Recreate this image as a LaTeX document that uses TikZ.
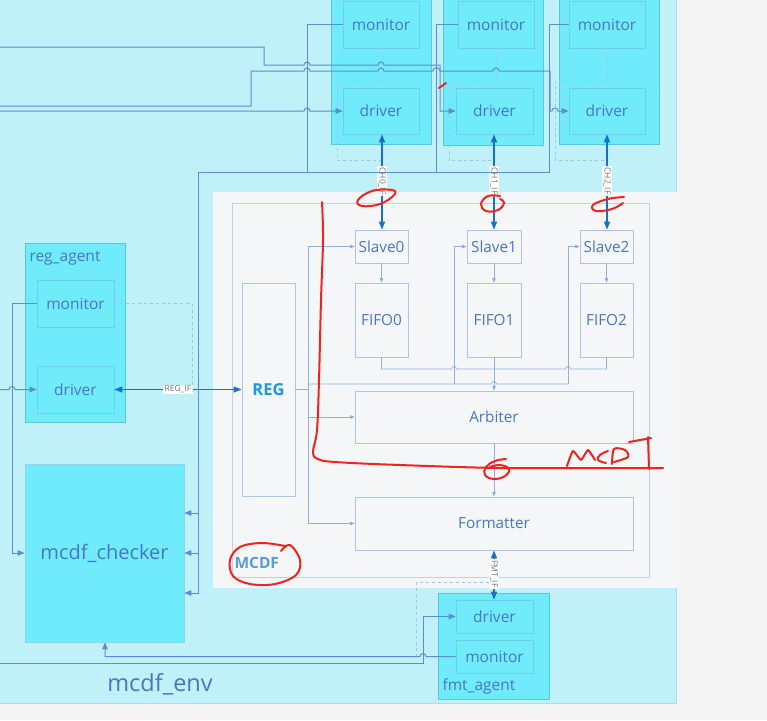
\documentclass[tikz,border=0pt]{standalone}
\usepackage{fontspec}
\setmainfont{Open Sans}
\usetikzlibrary{arrows.meta}
\definecolor{envc}{HTML}{C0F1F9}
\definecolor{envb}{HTML}{A6DDF0}
\definecolor{agc}{HTML}{6FEBFB}
\definecolor{subc}{HTML}{70EBFA}
\definecolor{agb}{HTML}{5CC3E0}
\definecolor{bgc}{HTML}{F5F5F5}
\definecolor{mcdfc}{HTML}{F5F6F8}
\definecolor{linec}{HTML}{5A8ED0}
\definecolor{ifc}{HTML}{1672C6}
\definecolor{txt}{HTML}{4677C6}
\definecolor{lbox}{HTML}{AFC4E2}
\definecolor{ilin}{HTML}{8DB1DF}
\definecolor{dsh}{HTML}{9FC6E6}
\definecolor{regc}{HTML}{1A9BE0}
\definecolor{mcdft}{HTML}{5B9BD5}
\definecolor{inkred}{HTML}{F0241E}
\tikzset{
  agentbox/.style={fill=agc, draw=agb, line width=0.8pt},
  subbox/.style={fill=subc, draw=agb!85, line width=0.6pt, text=txt, inner sep=0pt,
    font=\fontsize{15.5}{17}\selectfont},
  blk/.style={fill=mcdfc, draw=lbox, line width=0.8pt, text=txt, inner sep=0pt,
    font=\fontsize{15.3}{17}\selectfont},
  conn/.style={draw=linec, line width=1pt, -{Triangle[length=7pt,width=5.5pt]}},
  plainconn/.style={draw=linec, line width=1pt},
  iconn/.style={draw=ilin, line width=0.7pt, -{Triangle[length=4.5pt,width=3.5pt]}},
  iline/.style={draw=ilin, line width=0.7pt},
  ifarrow/.style={draw=ifc, line width=1.4pt,
    {Triangle[length=8pt,width=6pt]}-{Triangle[length=8pt,width=6pt]}},
  iflabel/.style={fill=white, text=gray!90!black, inner sep=1.2pt,
    font=\fontsize{8.5}{9}\selectfont},
  dashl/.style={draw=dsh, dashed, line width=0.7pt},
  redink/.style={draw=inkred, line width=2pt, line cap=round, line join=round},
  hop/.style={},
}
\begin{document}
\begin{tikzpicture}[x=1pt,y=-1pt]
\useasboundingbox (0,0) rectangle (767,720);
\fill[bgc] (0,0) rectangle (767,720);
% environment
\path[fill=envc, draw=envb, line width=0.8pt] (-2,-2) rectangle (676,703);
% MCDF
\path[fill=mcdfc, draw=white!85!lbox, line width=0.8pt] (213,192) rectangle (676,587);
\draw[lbox!80, line width=0.7pt] (232,203) rectangle (649,577);
\node[text=mcdft, font=\bfseries\fontsize{15.5}{17}\selectfont, anchor=west] (mcdflbl) at (231,563) {MCDF};

% channel agents
\path[agentbox] (331,-5) rectangle (431,144);
\path[agentbox] (443,-5) rectangle (543,145);
\path[agentbox] (559,-5) rectangle (659,144);
\node[subbox, minimum width=76pt, minimum height=47pt] (mon0) at (381,24.5) {monitor};
\node[subbox, minimum width=76pt, minimum height=46pt] (drv0) at (381,111) {driver};
\node[subbox, minimum width=76pt, minimum height=47pt] (mon1) at (496,24.5) {monitor};
\node[subbox, minimum width=77pt, minimum height=46pt] (drv1) at (494.5,111) {driver};
\node[subbox, minimum width=76pt, minimum height=47pt] (mon2) at (607,24.5) {monitor};
\node[subbox, minimum width=76pt, minimum height=46pt] (drv2) at (607,111) {driver};

% reg agent
\path[agentbox] (25,243) rectangle (125,422);
\node[text=txt, font=\fontsize{15.5}{17}\selectfont, anchor=west] (reglbl) at (26,258) {reg\_agent};
\node[subbox, minimum width=77pt, minimum height=47pt] (rmon) at (75.5,303.5) {monitor};
\node[subbox, minimum width=77pt, minimum height=47pt] (rdrv) at (75.5,389.5) {driver};

% checker
\node[fill=agc, draw=agb!70, line width=0.7pt, text=txt, minimum width=159pt, minimum height=178pt,
  font=\fontsize{20}{22}\selectfont] (ck) at (104.5,553) {mcdf\_checker};

% fmt agent
\path[agentbox] (438,593) rectangle (549,699);
\node[subbox, minimum width=77pt, minimum height=33pt] (fdrv) at (494.5,616.5) {driver};
\node[subbox, minimum width=77pt, minimum height=33pt] (fmon) at (494.5,656.5) {monitor};
\node[text=txt, font=\fontsize{15.5}{17}\selectfont, anchor=west] (fmtlbl) at (439,686) {fmt\_agent};

\node[text=txt, font=\fontsize{23.5}{26}\selectfont] (envlbl) at (160,684) {mcdf\_env};

% MCDF internals
\node[blk, minimum width=53pt, minimum height=213pt, text=regc, font=\bfseries\fontsize{16.5}{18}\selectfont] (reg) at (268.5,389.5) {REG};
\node[blk, minimum width=53pt, minimum height=33pt] (s0) at (381.5,246.5) {Slave0};
\node[blk, minimum width=54pt, minimum height=33pt] (s1) at (494,246.5) {Slave1};
\node[blk, minimum width=53pt, minimum height=33pt] (s2) at (606.5,246.5) {Slave2};
\node[blk, minimum width=53pt, minimum height=74pt] (f0) at (381.5,320) {FIFO0};
\node[blk, minimum width=54pt, minimum height=74pt] (f1) at (494,320) {FIFO1};
\node[blk, minimum width=53pt, minimum height=74pt] (f2) at (606.5,320) {FIFO2};
\node[blk, minimum width=278pt, minimum height=52pt] (arb) at (494,417) {Arbiter};
\node[blk, minimum width=278pt, minimum height=53pt] (fmt) at (494,523.5) {Formatter};

% internal connections
\draw[iconn] (s0.south) -- (f0.north);
\draw[iconn] (s1.south) -- (f1.north);
\draw[iconn] (s2.south) -- (f2.north);
\draw[iline] (reg.east |- 0,389.5) -- (308,389.5);
\draw[iline] (308,247) -- (308,524);
\draw[iconn] (308,246.5) -- (s0.west);
\draw[iline] (308,384) -- (491.5,384) arc[start angle=180,end angle=360,radius=2.5] -- (568,384);
\draw[iline] (454,384) -- (454,246.5);
\draw[iconn] (454,246.5) -- (s1.west);
\draw[iline] (568,384) -- (568,246.5);
\draw[iconn] (568,246.5) -- (s2.west);
\draw[iconn] (308,417) -- (arb.west);
\draw[iconn] (308,523.5) -- (fmt.west);
\draw[iline] (f0.south) -- (381.5,369) -- (451.5,369) arc[start angle=180,end angle=360,radius=2.5]
  -- (565.5,369) arc[start angle=180,end angle=360,radius=2.5] -- (606.5,369) -- (f2.south);
\draw[iconn] (f1.south) -- (arb.north);
\draw[iconn] (arb.south) -- (fmt.north);

% dashed monitor taps
\draw[dashl] (mon0.south) -- (381,81) -- (337,81) -- (337,160) -- (382,160);
\draw[dashl] (mon1.south) -- (496,81) -- (449,81) -- (449,160) -- (494,160);
\draw[dashl] (mon2.south) -- (607,81) -- (555,81) -- (555,160) -- (607,160);
\draw[dashl] (rmon.east) -- (192,303.5) -- (192,389.5);
\draw[dashl] (416,656.5) -- (416,582) -- (494,582);

% interface arrows
\draw[ifarrow] (drv0.south -| 382,0) -- (s0.north -| 382,0);
\draw[ifarrow] (drv1.south -| 494,0) -- (s1.north -| 494,0);
\draw[ifarrow] (drv2.south) -- (s2.north -| 607,0);
\node[iflabel, rotate=-90] (ch0) at (382,181) {CH0\_IF};
\node[iflabel, rotate=-90] (ch1) at (494,181) {CH1\_IF};
\node[iflabel, rotate=-90] (ch2) at (607,181) {CH2\_IF};
\draw[ifarrow] (rdrv.east) -- (reg.west |- 0,389.5);
\node[iflabel] (regif) at (178,389.5) {REG\_IF};
\draw[ifarrow] (fmt.south -| 494,0) -- (fdrv.north -| 494,0);
\node[iflabel, rotate=-90] (fmtif) at (494,574) {FMT\_IF};

% sequencer-side lines
\coordinate (inA) at (0,47);
\coordinate (inB) at (0,106);
\coordinate (inC) at (0,111);
\coordinate (inR) at (0,389.5);
\coordinate (inF) at (0,663);
\draw[conn] (inC) -- (304,111) arc[start angle=180,end angle=360,radius=3] -- (drv0.west);
\draw[conn] (inA) -- (264,47) -- (264,65) -- (304,65) arc[start angle=180,end angle=360,radius=3]
  -- (378,65) arc[start angle=180,end angle=360,radius=3] -- (440,65) -- (440,111) -- (drv1.west);
\draw[conn] (inB) -- (251,106) -- (251,71) -- (304,71) arc[start angle=180,end angle=360,radius=3]
  -- (378,71) arc[start angle=180,end angle=360,radius=3]
  -- (433,71) arc[start angle=180,end angle=360,radius=3.5]
  -- (493,71) arc[start angle=180,end angle=360,radius=3]
  -- (550,71) -- (550,111) -- (552,111) arc[start angle=180,end angle=360,radius=3] -- (drv2.west);
\draw[conn] (inR) -- (9,389.5) arc[start angle=180,end angle=360,radius=3] -- (rdrv.west);
\draw[conn] (inF) -- (423,663) -- (423,616.5) -- (fdrv.west);

% monitors to checker
\draw[plainconn] (mon0.west) -- (307,24.5) -- (307,172);
\draw[plainconn] (mon1.west) -- (436,24.5) -- (436,172);
\draw[conn] (mon2.west) -- (549,24.5) -- (549,172) -- (198,172) -- (198,593) -- (ck.east |- 0,593);
\draw[conn] (198,513) -- (ck.east |- 0,513);
\draw[conn] (198,553) -- (ck.east);
\draw[conn] (rmon.west) -- (12,303.5) -- (12,553) -- (ck.west);
\draw[conn] (fmon.west) -- (426,656.5) arc[start angle=0,end angle=-180,radius=3] -- (105,656.5) -- (ck.south -| 105,0);

% red annotations
\draw[redink] plot[smooth, tension=0.6] coordinates {(322,202) (323,240) (321,300) (319,380) (317,430) (313,452) (318,459) (335,462) (400,465) (500,468) (600,468) (663,468)};
\draw[redink] plot[smooth, tension=0.7] coordinates {(506,459) (495,461) (486,467) (485,475) (494,479) (505,476) (509,469) (500,465) (490,467)};
\draw[redink] plot[smooth, tension=0.3] coordinates {(567,466) (573,451) (581,460) (588,450) (595,460)};
\draw[redink] plot[smooth, tension=0.7] coordinates {(608,451) (600,455) (598,460) (606,463)};
\draw[redink] plot[smooth, tension=0.5] coordinates {(612,464) (614,449) (625,450) (628,457) (614,462)};
\draw[redink] (629,442) -- (651,438);
\draw[redink] (648,437) -- (649,469);
\draw[redink] plot[smooth cycle, tension=0.7] coordinates {(358,200) (372,191) (392,190) (394,195) (380,204) (362,206)};
\draw[redink] plot[smooth, tension=0.7] coordinates {(500,196) (488,196) (481,204) (486,211) (498,210) (504,203) (500,199)};
\draw[redink] plot[smooth, tension=0.7] coordinates {(624,197) (608,199) (593,205) (596,211) (612,209) (623,203)};
\draw[redink] plot[smooth, tension=0.6] coordinates {(281,551) (290,545) (300,560) (296,575) (275,584) (250,584) (233,576) (230,560) (240,547) (262,543) (285,546)};
\draw[redink] (439,88) -- (446,83);
\end{tikzpicture}
\end{document}
